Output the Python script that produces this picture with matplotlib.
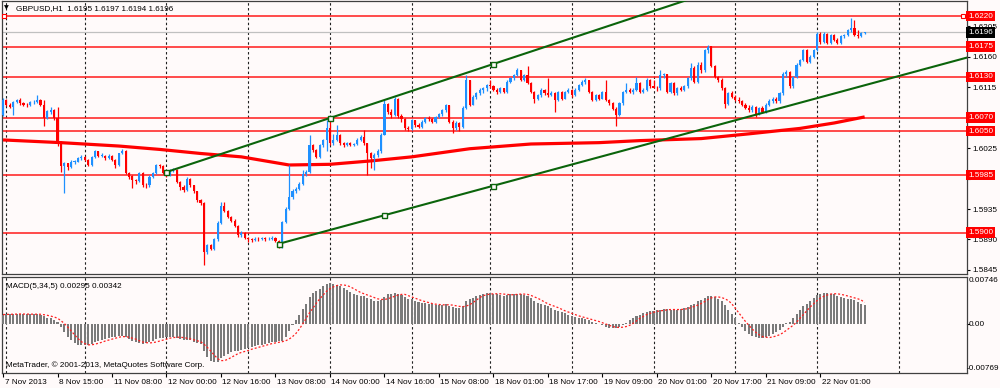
import numpy as np
import matplotlib
matplotlib.use("Agg")
import matplotlib.pyplot as plt
from matplotlib.transforms import blended_transform_factory, ScaledTranslation

# ---------------- data (prices in pips above 1.5800) ----------------
BASE = 1.58
first_open = 274
closes = [296, 289, 286, 293, 296, 291, 289, 288, 293, 293,
          296, 289, 269, 279, 281, 269, 232, 198, 203, 197,
          205, 205, 210, 212, 208, 200, 212, 220, 214, 214,
          210, 214, 208, 200, 217, 220, 188, 183, 178, 176,
          188, 171, 170, 183, 188, 200, 199, 188, 185, 193,
          193, 175, 168, 163, 180, 170, 161, 148, 144, 72,
          82, 76, 90, 115, 140, 132, 123, 118, 110, 96,
          100, 92, 90, 89, 91, 90, 92, 90, 91, 92,
          88, 84, 116, 135, 152, 162, 165, 172, 187, 190,
          230, 222, 212, 230, 237, 254, 232, 237, 244, 232,
          229, 232, 230, 231, 237, 242, 232, 217, 210, 215,
          220, 245, 290, 278, 274, 298, 272, 268, 254, 253,
          266, 259, 256, 264, 269, 268, 264, 271, 275, 281,
          288, 264, 254, 262, 256, 284, 325, 289, 300, 306,
          311, 313, 318, 316, 311, 308, 313, 308, 323, 328,
          333, 340, 326, 333, 321, 308, 298, 303, 311, 306,
          303, 306, 296, 308, 298, 308, 311, 303, 311, 318,
          323, 325, 308, 296, 303, 298, 308, 296, 291, 283,
          274, 291, 308, 311, 308, 311, 321, 308, 311, 326,
          316, 314, 313, 333, 334, 308, 321, 306, 313, 311,
          316, 328, 343, 323, 348, 340, 370, 375, 346, 330,
          326, 313, 290, 306, 301, 296, 294, 289, 284, 281,
          286, 276, 284, 279, 289, 294, 298, 294, 306, 335,
          338, 316, 330, 348, 355, 370, 352, 360, 370, 394,
          382, 394, 380, 392, 385, 380, 390, 392, 399, 402,
          392, 390, 395, 396]
highs = [299, 298, 291, 295, 298, 299, 293, 291, 295, 296,
         303, 297, 296, 281, 286, 282, 285, 236, 205, 201,
         207, 208, 212, 215, 213, 209, 213, 222, 221, 217,
         215, 216, 215, 209, 218, 224, 222, 190, 185, 180,
         190, 189, 174, 185, 190, 201, 202, 200, 192, 194,
         196, 194, 176, 170, 182, 181, 171, 162, 150, 145,
         84, 84, 92, 117, 146, 145, 134, 125, 120, 112,
         102, 101, 94, 92, 93, 93, 94, 93, 93, 95,
         93, 89, 118, 138, 200, 165, 168, 175, 192, 193,
         244, 231, 224, 231, 239, 266, 269, 246, 259, 246,
         234, 234, 234, 233, 240, 244, 252, 233, 219, 217,
         223, 247, 296, 292, 283, 301, 299, 276, 270, 258,
         268, 267, 262, 266, 271, 272, 270, 273, 277, 283,
         290, 289, 266, 265, 264, 287, 333, 323, 304, 308,
         313, 315, 320, 325, 318, 313, 315, 314, 325, 330,
         335, 343, 341, 335, 346, 322, 309, 305, 313, 312,
         328, 309, 308, 310, 309, 310, 313, 312, 313, 320,
         325, 328, 326, 309, 305, 305, 310, 326, 298, 293,
         285, 293, 310, 321, 313, 313, 330, 322, 313, 328,
         327, 325, 317, 340, 336, 335, 323, 322, 315, 316,
         318, 330, 350, 346, 352, 352, 372, 377, 376, 348,
         332, 328, 315, 308, 309, 303, 301, 296, 291, 288,
         288, 287, 286, 287, 291, 297, 300, 300, 308, 338,
         341, 339, 332, 350, 357, 372, 371, 362, 372, 396,
         396, 396, 395, 394, 393, 387, 392, 394, 401, 417,
         414, 399, 396, 397]
lows = [272, 287, 284, 274, 291, 289, 287, 286, 287, 290,
        292, 287, 257, 268, 276, 267, 228, 190, 158, 193,
        196, 202, 204, 208, 206, 198, 199, 211, 212, 212,
        208, 209, 206, 196, 199, 216, 186, 180, 166, 172,
        175, 168, 166, 168, 181, 186, 195, 186, 183, 184,
        190, 173, 163, 160, 161, 168, 158, 146, 141, 52,
        68, 74, 74, 88, 113, 130, 121, 116, 108, 94,
        94, 90, 87, 86, 88, 88, 89, 88, 89, 89,
        86, 77, 78, 114, 133, 150, 158, 163, 170, 184,
        188, 219, 210, 211, 227, 220, 230, 230, 235, 230,
        227, 228, 228, 228, 229, 235, 230, 185, 195, 193,
        212, 217, 244, 275, 270, 272, 270, 264, 252, 250,
        251, 256, 254, 254, 262, 265, 262, 262, 269, 273,
        279, 262, 247, 252, 250, 255, 282, 287, 288, 298,
        303, 307, 310, 314, 309, 305, 306, 306, 307, 321,
        326, 331, 324, 324, 319, 306, 291, 296, 301, 304,
        301, 302, 279, 294, 296, 297, 306, 301, 302, 309,
        316, 320, 306, 294, 294, 296, 297, 294, 289, 281,
        257, 272, 289, 306, 306, 305, 309, 306, 306, 309,
        314, 313, 310, 311, 328, 306, 306, 304, 304, 309,
        309, 314, 326, 321, 321, 336, 338, 366, 344, 328,
        322, 311, 284, 288, 299, 294, 292, 287, 282, 279,
        279, 271, 274, 277, 277, 287, 291, 292, 292, 304,
        330, 314, 314, 328, 346, 353, 350, 350, 358, 368,
        379, 380, 378, 378, 383, 378, 378, 387, 390, 397,
        390, 388, 389, 394]

# moving average (bar index, pips)
ma_bars = [0, 17, 34, 46, 58, 70, 84, 96, 108, 120, 137, 155, 175, 187, 205, 219, 234, 244, 253]
ma_vals = [237, 233, 228, 223, 217, 212, 200, 201, 206, 212, 224, 231, 233, 236, 239, 246, 254, 262, 271]

# trend line anchors (bar index, pips)
upper_bars = [48, 96, 144]
upper_vals = [189.6, 269.4, 349.1]
lower_bars = [81, 112, 144]
lower_vals = [83.6, 125.8, 169.4]

# horizontal levels
levels = [1.6220, 1.6175, 1.6130, 1.6070, 1.6050, 1.5985, 1.5900]
bid = 1.6196
price_ticks = [1.6205, 1.6160, 1.6115, 1.6070, 1.6025, 1.5980, 1.5935, 1.5890, 1.5845]
price_tick_labels = ["1.6205", "1.6160", "1.6115", "", "1.6025", "", "1.5935", "1.5890", "1.5845"]

# MACD (units of 1e-5)
macd = [150, 155, 160, 160, 160, 158, 156, 155, 155, 156,
        158, 150, 120, 100, 90, 70, 30, -40, -120, -200,
        -260, -300, -330, -340, -340, -330, -310, -290, -270, -250,
        -235, -220, -210, -200, -190, -185, -210, -240, -270, -290,
        -300, -310, -305, -290, -265, -240, -225, -215, -210, -205,
        -205, -215, -235, -250, -250, -260, -280, -300, -320, -430,
        -520, -580, -610, -600, -540, -500, -470, -450, -430, -420,
        -410, -400, -385, -370, -355, -340, -325, -310, -300, -290,
        -280, -275, -270, -200, -110, -20, 60, 150, 240, 320,
        430, 490, 520, 560, 600, 640, 650, 640, 620, 600,
        570, 540, 510, 480, 460, 450, 440, 420, 390, 370,
        360, 380, 430, 470, 480, 500, 480, 460, 430, 400,
        390, 370, 350, 340, 330, 320, 310, 305, 300, 300,
        310, 290, 270, 260, 250, 280, 360, 400, 420, 440,
        460, 480, 490, 490, 480, 470, 460, 450, 460, 470,
        480, 480, 470, 460, 440, 410, 370, 340, 320, 300,
        280, 260, 230, 210, 190, 170, 150, 130, 110, 100,
        90, 80, 60, 40, 20, 0, -20, -40, -60, -70,
        -60, -40, -10, 20, 60, 100, 130, 150, 170, 190,
        200, 210, 220, 220, 240, 240, 230, 220, 230, 240,
        250, 270, 300, 320, 360, 380, 420, 440, 440, 430,
        400, 360, 300, 230, 160, 90, 20, -50, -110, -160,
        -190, -210, -220, -220, -210, -190, -160, -130, -100, -40,
        10, 40, 100, 160, 230, 290, 320, 370, 420, 460,
        480, 490, 490, 480, 470, 450, 430, 410, 400, 390,
        380, 350, 320, 295]
signal = [150, 152, 155, 157, 158, 159, 158, 157, 156, 156,
          156, 155, 148, 138, 126, 112, 92, 54, 8, -48,
          -110, -170, -230, -280, -310, -330, -330, -320, -305, -290,
          -270, -255, -240, -225, -210, -200, -200, -210, -225, -240,
          -265, -285, -295, -300, -295, -285, -270, -255, -240, -225,
          -215, -210, -210, -215, -225, -235, -250, -265, -280, -320,
          -370, -430, -490, -550, -580, -580, -560, -530, -500, -470,
          -450, -435, -420, -400, -385, -370, -355, -340, -325, -310,
          -300, -290, -280, -265, -240, -200, -150, -80, 0, 90,
          180, 250, 330, 400, 460, 520, 560, 590, 610, 620,
          620, 610, 590, 560, 530, 500, 480, 460, 440, 420,
          400, 390, 390, 400, 420, 440, 460, 470, 470, 450,
          430, 410, 390, 370, 355, 340, 325, 315, 310, 305,
          305, 305, 300, 290, 280, 275, 285, 305, 340, 380,
          420, 450, 465, 475, 480, 480, 480, 475, 470, 465,
          465, 470, 475, 475, 470, 455, 430, 410, 380, 350,
          320, 300, 280, 260, 235, 210, 190, 170, 150, 130,
          115, 100, 85, 70, 55, 40, 20, 0, -20, -40,
          -50, -55, -50, -40, -20, 10, 50, 90, 120, 150,
          170, 185, 200, 210, 215, 225, 230, 230, 230, 230,
          235, 245, 260, 280, 300, 325, 355, 390, 415, 430,
          430, 420, 400, 370, 320, 250, 180, 110, 40, -20,
          -80, -130, -170, -200, -210, -215, -205, -190, -170, -140,
          -100, -60, -20, 30, 90, 150, 210, 270, 320, 370,
          410, 440, 460, 475, 480, 480, 470, 460, 445, 430,
          415, 400, 380, 342]

# time axis
tick_bars = list(range(0, 241, 16))
tick_labels = ["7 Nov 2013", "8 Nov 15:00", "11 Nov 08:00", "12 Nov 00:00", "12 Nov 16:00",
               "13 Nov 08:00", "14 Nov 00:00", "14 Nov 16:00", "15 Nov 08:00", "18 Nov 01:00",
               "18 Nov 17:00", "19 Nov 09:00", "20 Nov 01:00", "20 Nov 17:00", "21 Nov 09:00",
               "22 Nov 01:00"]
day_sep_bars = [1, 24, 48, 72, 96, 120, 143, 167, 191, 215, 239, 263]

# ---------------- drawing ----------------
BG = "#fffafa"
BULL = "#1e90ff"
BEAR = "#ff0000"
FONT = "Liberation Sans"
FS = 5.9
plt.rcParams["font.family"] = [FONT, "DejaVu Sans"]

c = BASE + np.array(closes) / 1e4
o = BASE + np.array([first_open] + closes[:-1]) / 1e4
h = BASE + np.array(highs) / 1e4
l = BASE + np.array(lows) / 1e4
h = np.maximum(h, np.maximum(o, c))
l = np.minimum(l, np.minimum(o, c))
x = np.arange(len(c))

fig = plt.figure(figsize=(10, 3.88), dpi=100, facecolor=BG)
L, W = 2 / 1000, 964.5 / 1000
axm = fig.add_axes([L, 1 - 274 / 388, W, 273 / 388], facecolor=BG)
axd = fig.add_axes([L, 1 - 372.5 / 388, W, 95.5 / 388], facecolor=BG)

xlim = (-0.3, 282.9)
for ax in (axm, axd):
    ax.set_xlim(*xlim)
    for s in ax.spines.values():
        s.set_color("#404040")
        s.set_linewidth(0.9)
    for b in day_sep_bars:
        ax.axvline(b, color="#202020", lw=0.8, ls=(0, (2.2, 2.2)), zorder=1)

axm.set_ylim(1.58390, 1.62422)
axd.set_ylim(-0.00769, 0.00746)

# horizontal levels
for lv in levels:
    axm.axhline(lv, color="#ff1a1a", lw=1.1, zorder=2)
axm.axhline(bid, color="#c0c0c0", lw=0.9, zorder=1.5)
axm.plot([0.3, 281.8], [1.6220, 1.6220], ls="none", marker="s", ms=3.2,
         mfc="white", mec="#ff0000", mew=0.8, zorder=6, clip_on=False)

# moving average
axm.plot(ma_bars, BASE + np.array(ma_vals) / 1e4, color="#ff0000", lw=2.3, zorder=3,
         solid_capstyle="butt")

# candles
up = c >= o
axm.vlines(x[up], l[up], h[up], color=BULL, lw=0.9, zorder=4)
axm.vlines(x[~up], l[~up], h[~up], color=BEAR, lw=0.9, zorder=4)
body = np.maximum(np.abs(c - o), 0.00007)
bottom = np.minimum(o, c)
axm.bar(x[up], body[up], bottom=bottom[up], width=0.62, color=BULL, lw=0, zorder=4)
axm.bar(x[~up], body[~up], bottom=bottom[~up], width=0.62, color=BEAR, lw=0, zorder=4)

# trend lines
GREEN = "#0b640b"
for bars, vals in ((upper_bars, upper_vals), (lower_bars, lower_vals)):
    vals_p = BASE + np.array(vals) / 1e4
    slope = (vals_p[1] - vals_p[0]) / (bars[1] - bars[0])
    xe = xlim[1]
    axm.plot([bars[0], xe], [vals_p[0], vals_p[0] + slope * (xe - bars[0])],
             color=GREEN, lw=1.5, zorder=5)
    axm.plot(bars, vals_p, ls="none", marker="s", ms=3.6, mfc="#fffafa",
             mec=GREEN, mew=1.0, zorder=6)

# price axis (right)
axm.yaxis.tick_right()
axm.set_yticks(price_ticks)
axm.set_yticklabels(price_tick_labels)
axm.tick_params(axis="y", length=2.5, width=0.8, pad=2, labelsize=FS, colors="black")
axm.tick_params(axis="x", length=0, labelbottom=False)

tr = blended_transform_factory(axm.transAxes, axm.transData)
box_x = (968 - 2) / 964.5
for lv in levels:
    axm.text(box_x, lv, f"{lv:.4f}", transform=tr, ha="left", va="center", fontsize=FS,
             color="white", zorder=10, clip_on=False,
             bbox=dict(boxstyle="square,pad=0.22", fc="#ff0000", ec="none"))
axm.text(box_x, bid, f"{bid:.4f}", transform=tr, ha="left", va="center", fontsize=FS,
         color="white", zorder=10, clip_on=False,
         bbox=dict(boxstyle="square,pad=0.22", fc="#000000", ec="none"))

# header
axm.text(0.002, 0.974, "\u25bc", transform=axm.transAxes, fontsize=4.5, va="center",
         ha="left", family="DejaVu Sans", zorder=10)
axm.text(0.0145, 0.974, "GBPUSD,H1  1.6195 1.6197 1.6194 1.6196", transform=axm.transAxes,
         fontsize=FS, va="center", ha="left", zorder=10)

# MACD panel
axd.bar(x, np.array(macd) / 1e5, width=0.6, color="#7a7a7a", lw=0, zorder=3)
axd.plot(x, np.array(signal) / 1e5, color="#ff2020", lw=0.9, ls=(0, (1.6, 1.6)), zorder=4)
axd.set_yticks([])
trd = blended_transform_factory(axd.transAxes, axd.transData)
axd.text(box_x + 0.001, 0.00746, "0.00746", transform=trd, ha="left", va="top", fontsize=FS,
         clip_on=False)
axd.text(box_x + 0.001, 0.0, "0.00", transform=trd, ha="left", va="center", fontsize=FS,
         clip_on=False)
axd.text(box_x - 0.001, -0.00769, "-0.00769", transform=trd, ha="left", va="bottom",
         fontsize=FS, clip_on=False)
axd.plot([1.0, 1.003], [0, 0], transform=trd, color="black", lw=0.8, clip_on=False)

axd.text(0.004, 0.90, "MACD(5,34,5) 0.00295 0.00342", transform=axd.transAxes,
         fontsize=FS, va="center", ha="left", zorder=10)
axd.text(0.004, 0.08, "MetaTrader, \u00a9 2001-2013, MetaQuotes Software Corp.",
         transform=axd.transAxes, fontsize=FS, va="center", ha="left", zorder=10)

axd.set_xticks(tick_bars)
axd.set_xticklabels(tick_labels)
axd.tick_params(axis="x", length=3, width=0.8, pad=1.5, labelsize=FS, colors="black",
                direction="out")
offset = ScaledTranslation(1.5 / 100, 0, fig.dpi_scale_trans)
for lab in axd.get_xticklabels():
    lab.set_horizontalalignment("left")
    lab.set_transform(lab.get_transform() + offset)

fig.savefig("out.png", dpi=100, facecolor=BG)
